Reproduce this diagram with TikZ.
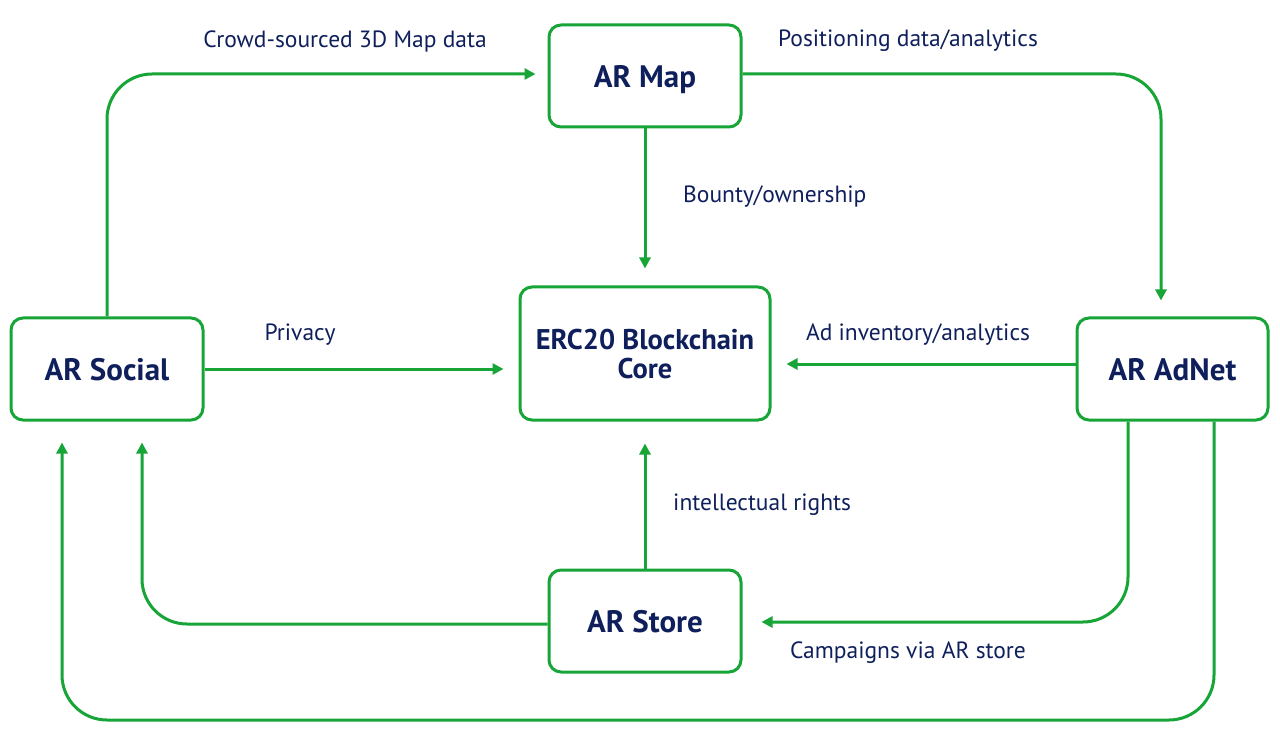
\documentclass[tikz,border=0pt]{standalone}
\usepackage{fontspec}
\setmainfont{PT Sans}
\usetikzlibrary{arrows.meta,calc}
\definecolor{grn}{HTML}{17A537}
\definecolor{navy}{HTML}{0E1F5B}
\begin{document}
\begin{tikzpicture}[x=1pt,y=1pt,
  box/.style={draw=grn,line width=3pt,rounded corners=12pt,fill=white,text=navy,
    font=\fontsize{31}{34}\selectfont\bfseries,align=center,inner sep=0pt,text depth=0pt},
  conn/.style={draw=grn,line width=3pt,rounded corners=45pt,-{Triangle[length=11pt,width=11pt]}},
  lbl/.style={text=navy,font=\fontsize{23.5}{27}\selectfont,inner sep=0pt}]
\useasboundingbox (0,0) rectangle (1280,-743);
\node[box,minimum width=192pt,minimum height=102pt] (map) at (645,-76) {AR Map};
\node[box,minimum width=250pt,minimum height=133pt,font=\fontsize{28.5}{29}\selectfont\bfseries] (erc) at (645,-353.5) {ERC20 Blockchain\\Core};
\node[box,minimum width=192pt,minimum height=102pt] (social) at (107,-369) {AR Social};
\node[box,minimum width=191pt,minimum height=102pt] (adnet) at (1172.5,-369) {AR AdNet};
\node[box,minimum width=192pt,minimum height=102pt] (store) at (645,-621) {AR Store};

\coordinate (t1) at ([xshift=-12pt,yshift=2pt]map.west);
\coordinate (t2) at ([xshift=-11.5pt,yshift=16pt]adnet.north);
\coordinate (t3) at ([yshift=17pt]map.south |- erc.north);
\coordinate (t4) at ([xshift=-15pt]erc.west |- social.east);
\coordinate (s5) at ([yshift=5pt]adnet.west);
\coordinate (t5) at ([xshift=15pt]erc.east |- s5);
\coordinate (t6) at ([yshift=-22pt]erc.south);
\coordinate (s7) at ([yshift=-3pt]store.west);
\coordinate (t7) at ([xshift=35pt,yshift=-21pt]social.south);
\coordinate (s8) at ([xshift=-44.5pt]adnet.south);
\coordinate (t8) at ([xshift=19pt,yshift=-1pt]store.east);
\coordinate (s9) at ([xshift=41.5pt]adnet.south);
\coordinate (t9) at ([xshift=-45pt,yshift=-21pt]social.south);
\coordinate (bot) at (62,-720);

\draw[conn] (social.north) |- (t1);
\draw[conn] ([yshift=2pt]map.east) -| (t2);
\draw[conn] (map.south) -- (t3);
\draw[conn] (social.east) -- (t4);
\draw[conn] (s5) -- (t5);
\draw[conn] (store.north) -- (t6);
\draw[conn] (s7) -| (t7);
\draw[conn] (s8) |- (t8);
\draw[conn] (s9) -- (s9 |- bot) -- (bot) -- (t9);

\node[lbl] (l1) at (345,-41) {Crowd-sourced 3D Map data};
\node[lbl] (l2) at (908,-41) {Positioning data/analytics};
\node[lbl,anchor=west] (l3) at (683,-197) {Bounty/ownership};
\node[lbl] (l4) at (300,-335) {Privacy};
\node[lbl] (l5) at (918,-335) {Ad inventory/analytics};
\node[lbl,anchor=west] (l6) at (673,-505) {intellectual rights};
\node[lbl] (l7) at (908,-653) {Campaigns via AR store};
\end{tikzpicture}
\end{document}
